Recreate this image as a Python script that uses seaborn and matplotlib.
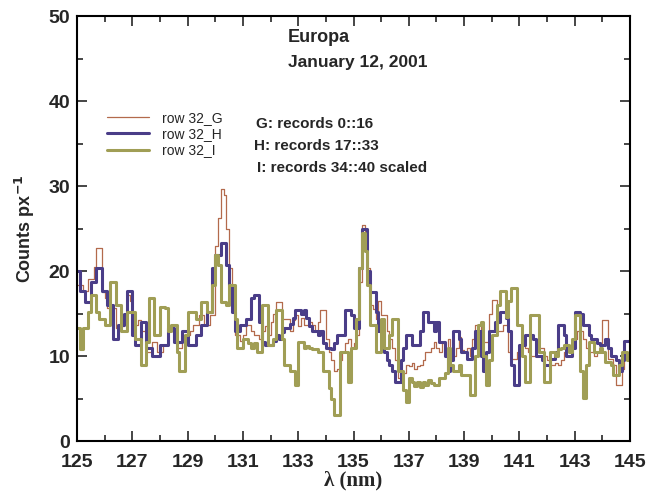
import numpy as np
import pandas as pd
import matplotlib
matplotlib.use("Agg")
import matplotlib.pyplot as plt
import seaborn as sns
from matplotlib.ticker import MultipleLocator

# wavelength bin starts (nm), 0.1 nm bins from 125 to 145
wl_start = 125.0
wl_step = 0.1

row_G = [
    18.4, 18.4, 17.6, 17.6, 19.1, 19.1, 20.5, 22.7, 22.7, 17.5,
    16.8, 15.6, 15.6, 15.6, 13.3, 13.3, 13.5, 15.0, 17.2, 16.5,
    13.6, 13.6, 14.2, 12.9, 12.9, 10.5, 10.5, 11.7, 11.7, 10.5,
    10.5, 11.3, 11.3, 12.9, 12.9, 12.0, 10.9, 10.9, 12.5, 12.5,
    12.5, 13.0, 13.6, 13.6, 14.8, 14.8, 13.6, 13.6, 14.8, 14.8,
    23.0, 26.2, 29.7, 29.0, 25.0, 20.3, 17.2, 12.5, 12.5, 11.8,
    12.5, 13.6, 13.6, 12.9, 12.5, 12.5, 12.0, 13.0, 13.5, 12.5,
    14.0, 15.0, 16.4, 16.4, 14.4, 14.4, 14.4, 13.0, 14.2, 14.8,
    13.5, 14.5, 13.7, 13.7, 14.0, 13.7, 13.0, 14.0, 15.4, 15.4,
    12.0, 10.5, 9.5, 8.2, 8.5, 9.5, 10.5, 11.5, 12.0, 11.0,
    11.5, 12.5, 18.7, 25.4, 24.0, 20.3, 16.0, 15.5, 14.4, 16.5,
    14.8, 14.8, 13.0, 12.0, 11.0, 9.5, 7.4, 7.4, 8.0, 9.0,
    8.8, 9.2, 8.5, 8.8, 9.0, 9.5, 10.5, 10.5, 11.0, 11.7,
    11.0, 10.5, 11.5, 10.9, 12.0, 10.5, 10.0, 11.0, 12.2, 10.7,
    10.5, 11.0, 10.0, 12.0, 13.6, 13.6, 12.5, 11.7, 11.7, 15.0,
    16.6, 16.6, 12.9, 12.9, 13.6, 13.6, 10.5, 9.7, 9.7, 10.5,
    10.5, 11.5, 11.0, 10.5, 10.0, 10.0, 10.5, 10.9, 10.9, 10.0,
    9.5, 8.9, 8.9, 9.2, 8.9, 9.5, 10.5, 10.9, 10.9, 11.5,
    12.0, 12.9, 12.9, 12.0, 11.0, 10.5, 10.5, 10.0, 10.5, 11.5,
    14.2, 14.2, 9.7, 9.7, 9.0, 6.6, 6.6, 8.5, 10.5, 10.5,
]

row_H = [
    20.0, 17.6, 17.6, 16.4, 16.4, 18.7, 18.7, 20.3, 20.3, 17.6,
    17.6, 16.0, 16.0, 12.0, 12.0, 13.6, 13.6, 15.0, 17.6, 17.6,
    12.5, 11.3, 11.3, 14.0, 14.0, 10.9, 10.9, 10.0, 10.0, 10.0,
    11.3, 11.3, 11.3, 13.3, 13.3, 11.7, 11.7, 11.7, 12.9, 12.9,
    11.3, 11.3, 11.3, 12.5, 12.5, 13.6, 13.6, 15.2, 15.2, 20.3,
    21.9, 21.9, 23.3, 23.3, 20.7, 18.4, 15.2, 12.9, 12.9, 13.7,
    13.7, 14.4, 14.4, 16.8, 17.2, 17.2, 14.0, 11.7, 11.3, 11.3,
    11.3, 11.8, 12.5, 12.0, 12.8, 13.3, 13.3, 13.8, 14.5, 15.4,
    15.4, 15.0, 15.4, 14.5, 13.5, 13.0, 13.0, 12.5, 13.0, 11.5,
    11.0, 11.0, 10.8, 11.5, 12.5, 12.5, 12.5, 15.4, 15.4, 14.8,
    13.3, 13.3, 20.3, 25.0, 25.0, 20.0, 17.5, 17.5, 15.2, 13.0,
    13.0, 10.5, 9.5, 9.0, 8.2, 7.0, 7.0, 9.5, 11.0, 12.5,
    12.5, 11.3, 11.3, 11.3, 13.0, 15.2, 15.2, 14.0, 14.0, 12.9,
    14.0, 11.7, 11.7, 10.0, 8.2, 9.5, 12.9, 12.9, 12.0, 10.5,
    10.5, 9.7, 9.7, 11.0, 12.9, 12.9, 10.0, 8.2, 10.5, 12.9,
    12.9, 14.0, 14.0, 15.2, 15.2, 14.5, 12.9, 9.0, 6.6, 6.6,
    11.3, 11.3, 12.5, 12.5, 12.5, 12.0, 10.0, 10.0, 9.5, 8.9,
    8.9, 9.7, 9.7, 10.5, 13.6, 13.6, 12.5, 10.0, 10.0, 11.0,
    15.2, 15.2, 15.0, 13.6, 13.6, 12.5, 12.0, 12.0, 11.5, 11.3,
    11.3, 12.0, 11.0, 10.0, 10.0, 9.5, 8.2, 9.5, 11.8, 11.8,
]

row_I = [
    13.3, 10.8, 13.3, 13.3, 15.2, 17.2, 17.2, 15.2, 14.4, 14.4,
    13.6, 13.6, 18.7, 18.7, 16.0, 16.0, 12.9, 12.9, 15.2, 15.2,
    15.2, 12.0, 12.0, 8.9, 8.9, 11.7, 16.8, 16.8, 12.5, 12.5,
    15.8, 15.8, 15.6, 12.9, 13.6, 13.6, 10.5, 8.2, 8.2, 12.5,
    15.2, 15.2, 15.2, 14.4, 14.4, 16.4, 16.4, 15.2, 15.2, 18.4,
    21.9, 20.7, 16.4, 16.4, 16.0, 18.4, 18.4, 14.4, 10.9, 10.9,
    12.0, 12.0, 11.5, 11.0, 11.5, 10.5, 10.5, 16.0, 16.0, 11.3,
    11.3, 12.0, 15.4, 15.4, 12.0, 8.9, 8.9, 8.2, 8.2, 6.6,
    11.7, 11.7, 11.0, 11.2, 11.0, 10.8, 10.8, 10.5, 10.5, 8.2,
    8.2, 6.2, 5.0, 3.1, 3.1, 10.5, 10.5, 10.5, 7.0, 11.0,
    11.0, 14.4, 20.3, 24.5, 22.3, 18.4, 13.6, 13.6, 10.5, 10.5,
    14.4, 10.9, 10.9, 12.5, 14.4, 14.4, 8.2, 8.2, 6.0, 4.6,
    7.4, 7.0, 6.5, 7.0, 6.4, 7.0, 6.6, 7.2, 6.8, 6.6,
    6.6, 7.4, 7.4, 8.0, 10.9, 9.0, 8.2, 8.2, 9.0, 7.8,
    7.8, 7.8, 5.4, 5.4, 10.0, 13.6, 14.0, 10.0, 6.6, 9.5,
    12.5, 12.5, 16.0, 17.6, 17.6, 14.6, 16.5, 18.0, 18.0, 13.6,
    13.6, 10.0, 7.0, 7.0, 14.8, 14.8, 14.8, 10.5, 10.5, 7.0,
    7.0, 10.5, 10.5, 10.0, 10.8, 11.0, 11.3, 11.3, 10.5, 12.0,
    14.8, 14.8, 8.2, 5.1, 9.0, 11.7, 11.7, 10.5, 10.5, 11.0,
    10.5, 9.3, 9.3, 9.0, 7.8, 7.8, 9.0, 10.5, 10.5, 9.5,
]

series_labels = ["row 32_G", "row 32_H", "row 32_I"]
x_ticks = [125, 127, 129, 131, 133, 135, 137, 139, 141, 143, 145]
y_ticks = [0, 10, 20, 30, 40, 50]

sns.set_style("ticks")
plt.rcParams["font.family"] = ["Liberation Sans", "DejaVu Sans"]

n = len(row_G)
edges = np.round(wl_start + wl_step * np.arange(n + 1), 2)

frames = []
for lab, vals in zip(series_labels, [row_G, row_H, row_I]):
    v = list(vals) + [vals[-1]]
    frames.append(pd.DataFrame({"wl": edges, "counts": v, "series": lab}))
df = pd.concat(frames, ignore_index=True)

colors = {"row 32_G": "#b36a4c", "row 32_H": "#4a3d88", "row 32_I": "#a09e55"}
widths = {"row 32_G": 0.9, "row 32_H": 2.2, "row 32_I": 2.2}

fig = plt.figure(figsize=(6.47, 4.94), dpi=100)
ax = fig.add_axes([77 / 647, 1 - 441 / 494, (630 - 77) / 647, (441 - 16) / 494])

for lab in series_labels:
    sub = df[df["series"] == lab]
    sns.lineplot(data=sub, x="wl", y="counts", ax=ax, color=colors[lab],
                 linewidth=widths[lab], drawstyle="steps-post", label=lab,
                 estimator=None, sort=False)

ax.set_xlim(125, 145)
ax.set_ylim(0, 50)
ax.set_xticks(x_ticks)
ax.set_yticks(y_ticks)
ax.xaxis.set_minor_locator(MultipleLocator(1))
ax.yaxis.set_minor_locator(MultipleLocator(5))
ax.tick_params(which="both", direction="in", top=True, right=True, width=1.2)
ax.tick_params(which="major", length=7, labelsize=14)
ax.tick_params(which="minor", length=4)
ax.tick_params(axis="x", which="major", pad=9)
ax.tick_params(axis="y", which="major", pad=5)
for lbl in ax.get_xticklabels() + ax.get_yticklabels():
    lbl.set_fontweight("bold")
for sp in ax.spines.values():
    sp.set_linewidth(1.5)
    sp.set_color("black")

ax.set_xlabel("λ (nm)", fontsize=15, fontweight="bold",
              family=["Liberation Serif", "DejaVu Serif"], labelpad=0)
ax.set_ylabel("Counts px$^{\\mathbf{-1}}$", fontsize=13, fontweight="bold", labelpad=8)

leg = ax.legend(loc="upper left", bbox_to_anchor=(0.054, 0.776), frameon=False,
                fontsize=10, handlelength=3.0, handletextpad=1.0,
                labelspacing=0.15, borderpad=0, borderaxespad=0)

fig.text(288 / 647, 1 - 37 / 494, "Europa", fontsize=13, fontweight="bold", va="center")
fig.text(288 / 647, 1 - 63 / 494, "January 12, 2001", fontsize=12.5, fontweight="bold", va="center")
fig.text(256 / 647, 1 - 124 / 494, "G: records 0::16", fontsize=11, fontweight="bold", va="center")
fig.text(254 / 647, 1 - 146 / 494, "H: records 17::33", fontsize=11, fontweight="bold", va="center")
fig.text(257 / 647, 1 - 168 / 494, "I: records 34::40 scaled", fontsize=11, fontweight="bold", va="center")

fig.savefig("out.png", dpi=100)
